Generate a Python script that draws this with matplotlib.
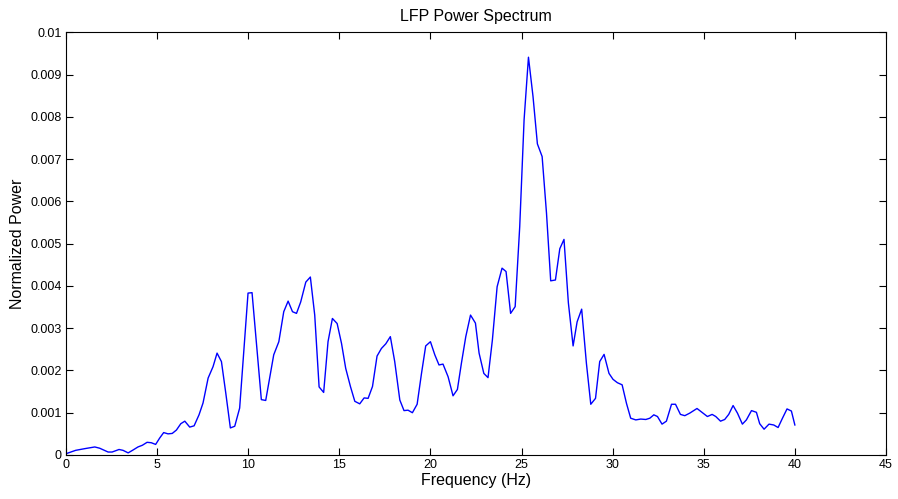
import matplotlib
matplotlib.use('Agg')
import matplotlib.pyplot as plt
import numpy as np

# Частота (Гц) у вершинах кривої
freq = [0.0, 0.53, 1.03, 1.58, 1.85, 2.31, 2.53, 2.91, 3.13, 3.41, 3.65, 3.95, 4.19,
        4.45, 4.68, 4.92, 5.14, 5.36, 5.6, 5.83, 6.06, 6.3, 6.52, 6.79, 7.03, 7.3,
        7.52, 7.8, 8.07, 8.29, 8.53, 8.77, 9.02, 9.26, 9.53, 9.99, 10.21, 10.72,
        10.96, 11.4, 11.68, 11.95, 12.19, 12.43, 12.65, 12.88, 13.16, 13.41, 13.65,
        13.89, 14.14, 14.38, 14.62, 14.88, 15.12, 15.35, 15.61, 15.85, 16.12, 16.36,
        16.58, 16.82, 17.07, 17.31, 17.55, 17.8, 18.04, 18.32, 18.55, 18.77, 19.01,
        19.27, 19.51, 19.74, 20.0, 20.24, 20.47, 20.69, 20.97, 21.24, 21.48, 21.7,
        21.94, 22.2, 22.47, 22.67, 22.93, 23.16, 23.4, 23.66, 23.93, 24.15, 24.4,
        24.65, 24.9, 25.14, 25.38, 25.63, 25.87, 26.13, 26.37, 26.6, 26.86, 27.1,
        27.33, 27.57, 27.83, 28.05, 28.3, 28.56, 28.8, 29.06, 29.29, 29.53, 29.8,
        30.02, 30.26, 30.52, 30.76, 30.99, 31.27, 31.54, 31.82, 32.04, 32.26, 32.46,
        32.71, 32.95, 33.23, 33.45, 33.72, 33.96, 34.23, 34.63, 34.93, 35.2, 35.46,
        35.66, 35.92, 36.15, 36.37, 36.61, 36.85, 37.12, 37.34, 37.62, 37.89, 38.07,
        38.31, 38.58, 38.84, 39.08, 39.32, 39.57, 39.81, 40.0]

# Нормована потужність (x 1e-3)
power_e3 = [0.03, 0.11, 0.15, 0.19, 0.16, 0.07, 0.07, 0.13, 0.11, 0.05, 0.11, 0.19, 0.23,
            0.30, 0.29, 0.25, 0.40, 0.53, 0.50, 0.51, 0.59, 0.74, 0.80, 0.66, 0.69, 0.95,
            1.23, 1.82, 2.09, 2.41, 2.21, 1.46, 0.64, 0.68, 1.11, 3.83, 3.84, 1.31,
            1.29, 2.37, 2.68, 3.39, 3.64, 3.39, 3.35, 3.62, 4.09, 4.21, 3.31,
            1.61, 1.48, 2.68, 3.23, 3.11, 2.64, 2.05, 1.62, 1.27, 1.21, 1.35,
            1.34, 1.62, 2.34, 2.52, 2.63, 2.80, 2.21, 1.30, 1.05, 1.06, 1.00,
            1.20, 1.93, 2.58, 2.68, 2.37, 2.13, 2.15, 1.85, 1.40, 1.55, 2.17,
            2.80, 3.31, 3.12, 2.41, 1.93, 1.83, 2.72, 3.98, 4.42, 4.34, 3.35,
            3.51, 5.40, 7.93, 9.41, 8.48, 7.36, 7.06, 5.72, 4.12, 4.14, 4.88,
            5.10, 3.60, 2.58, 3.15, 3.45, 2.17, 1.20, 1.34, 2.21, 2.38, 1.93,
            1.79, 1.71, 1.66, 1.22, 0.87, 0.83, 0.85, 0.84, 0.87, 0.95, 0.91,
            0.73, 0.80, 1.20, 1.20, 0.96, 0.93, 0.99, 1.10, 1.00, 0.91, 0.96,
            0.91, 0.80, 0.84, 0.96, 1.17, 0.99, 0.73, 0.83, 1.05, 1.01, 0.74,
            0.61, 0.73, 0.71, 0.65, 0.87, 1.09, 1.04, 0.71]

x_ticks = [0, 5, 10, 15, 20, 25, 30, 35, 40, 45]
y_ticks = [0, 0.001, 0.002, 0.003, 0.004, 0.005, 0.006, 0.007, 0.008, 0.009, 0.01]
y_tick_labels = ['0', '0.001', '0.002', '0.003', '0.004', '0.005', '0.006',
                 '0.007', '0.008', '0.009', '0.01']

plt.rcParams['font.family'] = ['Liberation Sans', 'DejaVu Sans']

fig = plt.figure(figsize=(8.98, 4.99), dpi=100)
ax = fig.add_axes([0.0735, 0.0882, 0.9131, 0.8471])

power = np.array(power_e3) * 1e-3
ax.plot(freq, power, color='#0000ff', linewidth=1.0)

ax.set_xlim(0, 45)
ax.set_ylim(0, 0.01)
ax.set_xticks(x_ticks)
ax.set_xticklabels([str(t) for t in x_ticks])
ax.set_yticks(y_ticks)
ax.set_yticklabels(y_tick_labels)

# Вигляд у стилі MATLAB
ax.tick_params(direction='in', top=True, right=True, length=5, width=0.8,
               labelsize=9, colors='black', pad=3)
for spine in ax.spines.values():
    spine.set_linewidth(0.8)

ax.set_title('LFP Power Spectrum', fontsize=11.5, pad=8)
ax.set_xlabel('Frequency (Hz)', fontsize=11.5, labelpad=1)
ax.set_ylabel('Normalized Power', fontsize=11.5, labelpad=4)

fig.savefig('out.png', dpi=100)
